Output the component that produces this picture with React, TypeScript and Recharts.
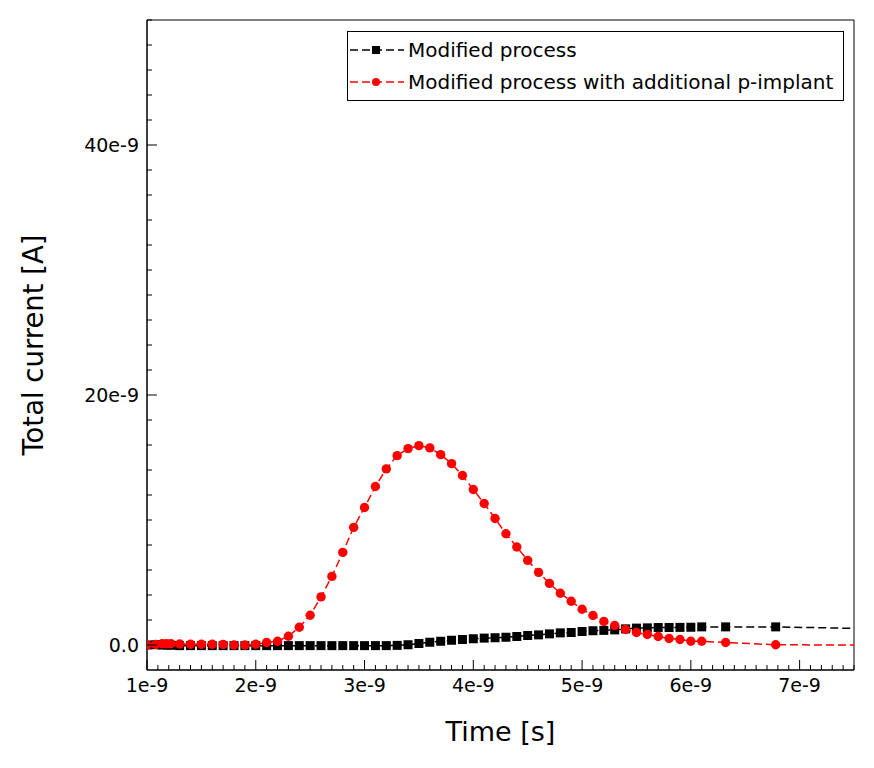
import React from "react";
import { LineChart, Line, XAxis, YAxis, ReferenceArea } from "recharts";

// time in units of 1e-9 s, current in units of 1e-9 A
const timeNs = [
  1.0, 1.08, 1.14, 1.18, 1.22, 1.3, 1.4, 1.5, 1.6, 1.7, 1.8, 1.9, 2.0, 2.1, 2.2, 2.3, 2.4, 2.5, 2.6, 2.7,
  2.8, 2.9, 3.0, 3.1, 3.2, 3.3, 3.4, 3.5, 3.6, 3.7, 3.8, 3.9, 4.0, 4.1, 4.2, 4.3, 4.4, 4.5, 4.6, 4.7,
  4.8, 4.9, 5.0, 5.1, 5.2, 5.3, 5.4, 5.5, 5.6, 5.7, 5.8, 5.9, 6.0, 6.1, 6.32, 6.78, 8.0,
];

const modifiedCurrent = [
  0.0, 0.02, 0.0, 0.0, -0.02, -0.05, -0.05, -0.05, -0.05, -0.05, -0.05, -0.05, -0.05, -0.05, -0.05, -0.05, -0.05, -0.05, -0.05, -0.05,
  -0.05, -0.05, -0.05, -0.05, -0.05, -0.03, 0.02, 0.12, 0.22, 0.3, 0.38, 0.44, 0.5, 0.55, 0.58, 0.62, 0.68, 0.76, 0.81, 0.89,
  0.97, 1.0, 1.08, 1.14, 1.17, 1.21, 1.29, 1.35, 1.37, 1.4, 1.4, 1.41, 1.42, 1.45, 1.45, 1.45, 1.25,
];

const implantCurrent = [
  0.0, 0.05, 0.1, 0.1, 0.1, 0.08, 0.06, 0.06, 0.06, 0.05, 0.0, 0.0, 0.06, 0.2, 0.3, 0.7, 1.42, 2.38, 3.85, 5.49,
  7.41, 9.41, 11.0, 12.68, 14.09, 15.15, 15.71, 15.95, 15.77, 15.23, 14.51, 13.56, 12.44, 11.32, 10.12, 8.9, 7.84, 6.77, 5.81, 4.93,
  4.14, 3.5, 2.86, 2.36, 1.88, 1.56, 1.24, 1.0, 0.84, 0.68, 0.52, 0.44, 0.3, 0.3, 0.2, 0.02, -0.03,
];

const xMajor = [1, 2, 3, 4, 5, 6, 7];
const yMajor = [0, 20, 40];
const yLabels = ["0.0", "20e-9", "40e-9"];

const xTicks = Array.from({ length: 66 }, (_, i) => Math.round((1 + i * 0.1) * 10) / 10);
const yTicks = Array.from({ length: 26 }, (_, i) => i * 2);

const modifiedData = timeNs.map((t, i) => ({ t, i: modifiedCurrent[i] }));
const implantData = timeNs.map((t, i) => ({ t, i: implantCurrent[i] }));

const FONT = "'DejaVu Sans', sans-serif";

function XTick(props: any) {
  const { x, y, payload } = props;
  const v = payload.value;
  const major = xMajor.some((m) => Math.abs(m - v) < 1e-6);
  return (
    <g>
      <line x1={x} y1={y} x2={x} y2={y - (major ? 10 : 5)} stroke="#000" strokeWidth={1} />
      {major && (
        <text x={x} y={y + 22} textAnchor="middle" fontSize={19} fontFamily={FONT} fill="#000">
          {`${v}e-9`}
        </text>
      )}
    </g>
  );
}

function YTick(props: any) {
  const { x, y, payload } = props;
  const idx = yMajor.indexOf(payload.value);
  const major = idx >= 0;
  return (
    <g>
      <line x1={x} y1={y} x2={x + (major ? 10 : 5)} y2={y} stroke="#000" strokeWidth={1} />
      {major && (
        <text x={x - 8} y={y} dy="0.36em" textAnchor="end" fontSize={19} fontFamily={FONT} fill="#000">
          {yLabels[idx]}
        </text>
      )}
    </g>
  );
}

const SquareDot = (props: any) => {
  const { cx, cy, key } = props;
  if (cx == null || cy == null) return <g key={key} />;
  return <rect key={key} x={cx - 4.5} y={cy - 4.5} width={9} height={9} fill="#000" />;
};

const CircleDot = (props: any) => {
  const { cx, cy, key } = props;
  if (cx == null || cy == null) return <g key={key} />;
  return <circle key={key} cx={cx} cy={cy} r={4.7} fill="#ff0000" />;
};

function LegendBox() {
  const rows = [
    { name: "Modified process", color: "#000", square: true },
    { name: "Modified process with additional p-implant", color: "#ff0000", square: false },
  ];
  return (
    <div
      style={{
        position: "absolute",
        left: 339,
        top: 23,
        width: 495,
        height: 68,
        border: "1px solid #000",
        background: "#fff",
        fontFamily: FONT,
        fontSize: 20,
      }}
    >
      {rows.map((r, k) => (
        <div key={k} style={{ position: "absolute", left: 0, top: 2 + k * 32, height: 32, display: "flex", alignItems: "center" }}>
          <svg width={58} height={32} style={{ display: "block" }}>
            <line x1={2} y1={16} x2={56} y2={16} stroke={r.color} strokeWidth={1.5} strokeDasharray="8 4" />
            {r.square ? (
              <rect x={24} y={12} width={8} height={8} fill={r.color} />
            ) : (
              <circle cx={28} cy={16} r={4} fill={r.color} />
            )}
          </svg>
          <span style={{ marginLeft: 2, whiteSpace: "nowrap" }}>{r.name}</span>
        </div>
      ))}
    </div>
  );
}

export default function App() {
  return (
    <div style={{ position: "relative", width: 866, height: 760 }}>
      <LineChart width={866} height={760} margin={{ top: 12, right: 20, left: 0, bottom: 0 }}>
        <XAxis
          type="number"
          dataKey="t"
          domain={[1, 7.5]}
          allowDataOverflow
          ticks={xTicks}
          interval={0}
          tickSize={0}
          tickMargin={0}
          tickLine={false}
          tick={<XTick />}
          height={98}
          axisLine={{ stroke: "#000" }}
          label={(p: any) => {
            const vb = p.viewBox;
            return (
              <text x={vb.x + vb.width / 2} y={vb.y + 71} textAnchor="middle" fontSize={27} fontFamily={FONT} fill="#000">
                Time [s]
              </text>
            );
          }}
        />
        <YAxis
          type="number"
          dataKey="i"
          domain={[-2, 50]}
          allowDataOverflow
          ticks={yTicks}
          interval={0}
          tickSize={0}
          tickMargin={0}
          tickLine={false}
          tick={<YTick />}
          width={139}
          axisLine={{ stroke: "#000" }}
          label={(p: any) => {
            const vb = p.viewBox;
            const cx = vb.x + 25;
            const cy = vb.y + vb.height / 2;
            return (
              <text
                x={cx}
                y={cy}
                transform={`rotate(-90, ${cx}, ${cy})`}
                textAnchor="middle"
                dominantBaseline="central"
                fontSize={27.5}
                fontFamily={FONT}
                fill="#000"
              >
                Total current [A]
              </text>
            );
          }}
        />
        <ReferenceArea x1={1} x2={7.5} y1={-2} y2={50} fill="none" stroke="#000" strokeWidth={1} />
        <Line
          data={modifiedData}
          dataKey="i"
          type="linear"
          stroke="#000"
          strokeWidth={1.5}
          strokeDasharray="8 4"
          dot={SquareDot}
          activeDot={false}
          isAnimationActive={false}
        />
        <Line
          data={implantData}
          dataKey="i"
          type="linear"
          stroke="#ff0000"
          strokeWidth={1.5}
          strokeDasharray="8 4"
          dot={CircleDot}
          activeDot={false}
          isAnimationActive={false}
        />
      </LineChart>
      <LegendBox />
    </div>
  );
}
